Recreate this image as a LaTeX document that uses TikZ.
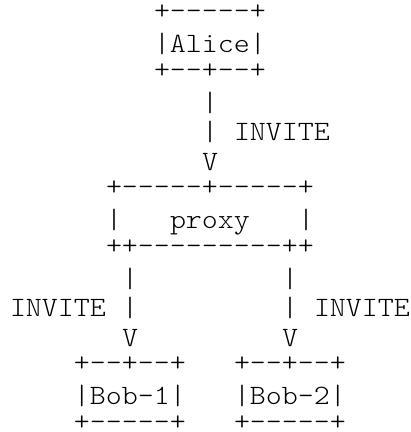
\documentclass[tikz,border=0pt]{standalone}
\usepackage{fontspec}
\newfontfamily\asciifont{lmmonolt10-regular.otf}
\newcommand\hy{-\kern0pt}
\newcommand\vb{|}
\newcommand\asctxt[1]{\scalebox{1.088}[1]{\fontsize{28}{29}\selectfont\asciifont #1}}
% #1 name, #2 column, #3 row, #4 extra raise, #5 text
\newcommand\asc[5]{\node[ascii] (#1) at ({10pt+16pt*#2},{432pt-53pt-(#3-2)*29.33pt+#4}) {\asctxt{#5}};}
\tikzset{ascii/.style={anchor=base west, inner sep=0pt, outer sep=0pt}}
\begin{document}
\begin{tikzpicture}
\useasboundingbox (0pt,0pt) rectangle (411pt,432pt);
% Alice
\asc{alicetop}{9}{1}{4pt}{+\hy\hy\hy\hy\hy+}
\asc{alice}{9}{2}{0pt}{\vb Alice\vb}
\asc{alicebot}{9}{3}{4pt}{+\hy\hy+\hy\hy+}
% Alice -> proxy
\asc{ca}{12}{4}{0pt}{\vb}
\asc{cb}{12}{5}{0pt}{\vb}
\asc{la}{14}{5}{0pt}{INVITE}
\asc{va}{12}{6}{0pt}{V}
% proxy
\asc{proxytop}{6}{7}{4pt}{+\hy\hy\hy\hy\hy+\hy\hy\hy\hy\hy+}
\asc{proxyl}{6}{8}{0pt}{\vb}
\asc{proxy}{10}{8}{0pt}{proxy}
\asc{proxyr}{18}{8}{0pt}{\vb}
\asc{proxybot}{6}{9}{4pt}{++\hy\hy\hy\hy\hy\hy\hy\hy\hy++}
% proxy -> Bob-1
\asc{cc}{7}{10}{0pt}{\vb}
\asc{lb}{0}{11}{0pt}{INVITE}
\asc{cd}{7}{11}{0pt}{\vb}
\asc{vb1}{7}{12}{0pt}{V}
% proxy -> Bob-2
\asc{ce}{17}{10}{0pt}{\vb}
\asc{cf}{17}{11}{0pt}{\vb}
\asc{lc}{19}{11}{0pt}{INVITE}
\asc{vb2}{17}{12}{0pt}{V}
% Bob-1
\asc{bobatop}{4}{13}{4pt}{+\hy\hy+\hy\hy+}
\asc{boba}{4}{14}{0pt}{\vb Bob-1\vb}
\asc{bobabot}{4}{15}{4pt}{+\hy\hy\hy\hy\hy+}
% Bob-2
\asc{bobbtop}{14}{13}{4pt}{+\hy\hy+\hy\hy+}
\asc{bobb}{14}{14}{0pt}{\vb Bob-2\vb}
\asc{bobbbot}{14}{15}{4pt}{+\hy\hy\hy\hy\hy+}
\end{tikzpicture}
\end{document}
